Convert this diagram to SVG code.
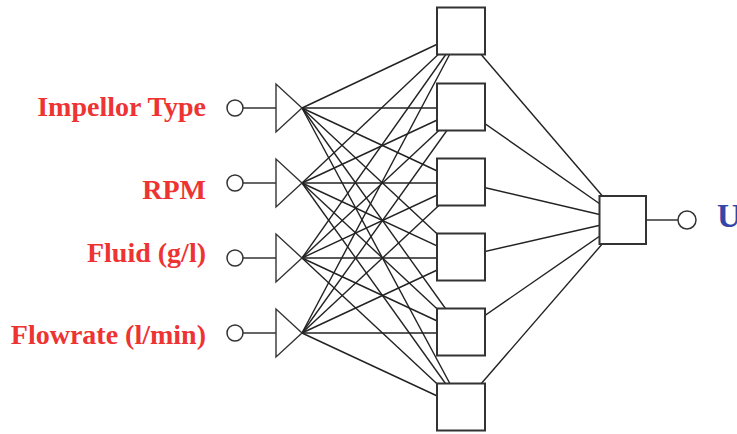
<svg xmlns="http://www.w3.org/2000/svg" width="737" height="434" viewBox="0 0 737 434">
  <style>
    .lbl { font-family: "Liberation Serif", "Times New Roman", serif; font-weight: bold; font-size: 28px; fill: #ee3333; text-anchor: end; }
    .out { font-family: "Liberation Serif", "Times New Roman", serif; font-weight: bold; font-size: 33px; fill: #3646a8; }
    .edge { stroke: #222; stroke-width: 1.4; fill: none; }
    .box { fill: #fff; stroke: #333; stroke-width: 2; }
    .tri { fill: #fff; stroke: #333; stroke-width: 1.4; stroke-linejoin: miter; }
    .pin { fill: #fff; stroke: #333; stroke-width: 1.5; }
    .stub { stroke: #333; stroke-width: 1.5; }
  </style>

  <!-- connectors: input fan-outs to every hidden unit, hidden units to output -->
  <g id="connectors" class="edge">
    <!-- from input 1 tip (302,108) -->
    <line x1="302" y1="108" x2="461" y2="33"/>
    <line x1="302" y1="108" x2="463" y2="108"/>
    <line x1="302" y1="108" x2="463" y2="183"/>
    <line x1="302" y1="108" x2="463" y2="258"/>
    <line x1="302" y1="108" x2="463" y2="333"/>
    <line x1="302" y1="108" x2="463" y2="408"/>
    <!-- from input 2 tip (302,183) -->
    <line x1="302" y1="183" x2="461" y2="33"/>
    <line x1="302" y1="183" x2="463" y2="108"/>
    <line x1="302" y1="183" x2="463" y2="183"/>
    <line x1="302" y1="183" x2="463" y2="258"/>
    <line x1="302" y1="183" x2="463" y2="333"/>
    <line x1="302" y1="183" x2="463" y2="408"/>
    <!-- from input 3 tip (302,258) -->
    <line x1="302" y1="258" x2="461" y2="33"/>
    <line x1="302" y1="258" x2="463" y2="108"/>
    <line x1="302" y1="258" x2="463" y2="183"/>
    <line x1="302" y1="258" x2="463" y2="258"/>
    <line x1="302" y1="258" x2="463" y2="333"/>
    <line x1="302" y1="258" x2="463" y2="408"/>
    <!-- from input 4 tip (302,333) -->
    <line x1="302" y1="333" x2="461" y2="33"/>
    <line x1="302" y1="333" x2="463" y2="108"/>
    <line x1="302" y1="333" x2="463" y2="183"/>
    <line x1="302" y1="333" x2="463" y2="258"/>
    <line x1="302" y1="333" x2="463" y2="333"/>
    <line x1="302" y1="333" x2="463" y2="408"/>
    <!-- hidden to output -->
    <line x1="461" y1="31" x2="623" y2="220"/>
    <line x1="461" y1="107" x2="623" y2="220"/>
    <line x1="461" y1="182" x2="623" y2="220"/>
    <line x1="461" y1="257" x2="623" y2="220"/>
    <line x1="461" y1="332" x2="623" y2="220"/>
    <line x1="461" y1="407" x2="623" y2="220"/>
  </g>

  <!-- input units -->
  <g id="in-impellor">
    <text class="lbl" x="206" y="115.5">Impellor Type</text>
    <line class="stub" x1="243" y1="108" x2="276" y2="108"/>
    <circle class="pin" cx="235" cy="108" r="8"/>
    <polygon class="tri" points="276,84 276,132 302,108"/>
  </g>
  <g id="in-rpm">
    <text class="lbl" x="206" y="199">RPM</text>
    <line class="stub" x1="243" y1="183" x2="276" y2="183"/>
    <circle class="pin" cx="235" cy="183" r="8"/>
    <polygon class="tri" points="276,159 276,207 302,183"/>
  </g>
  <g id="in-fluid">
    <text class="lbl" x="206" y="261.5">Fluid (g/l)</text>
    <line class="stub" x1="243" y1="258" x2="276" y2="258"/>
    <circle class="pin" cx="235" cy="258" r="8"/>
    <polygon class="tri" points="276,234 276,282 302,258"/>
  </g>
  <g id="in-flowrate">
    <text class="lbl" x="206" y="343.5">Flowrate (l/min)</text>
    <line class="stub" x1="243" y1="333" x2="276" y2="333"/>
    <circle class="pin" cx="235" cy="333" r="8"/>
    <polygon class="tri" points="276,309 276,357 302,333"/>
  </g>

  <!-- hidden units -->
  <g id="h1"><rect class="box" x="437" y="7.5" width="48" height="47"/></g>
  <g id="h2"><rect class="box" x="437" y="83.5" width="48" height="47"/></g>
  <g id="h3"><rect class="box" x="437" y="158.5" width="48" height="47"/></g>
  <g id="h4"><rect class="box" x="437" y="233.5" width="48" height="47"/></g>
  <g id="h5"><rect class="box" x="437" y="308.5" width="48" height="47"/></g>
  <g id="h6"><rect class="box" x="437" y="383.5" width="48" height="47"/></g>

  <!-- output unit -->
  <g id="output">
    <line class="stub" x1="646" y1="220" x2="678" y2="220"/>
    <rect class="box" x="599.5" y="196" width="46.5" height="48"/>
    <circle class="pin" cx="687" cy="220" r="9"/>
    <text class="out" x="717" y="227">U</text>
  </g>
</svg>
